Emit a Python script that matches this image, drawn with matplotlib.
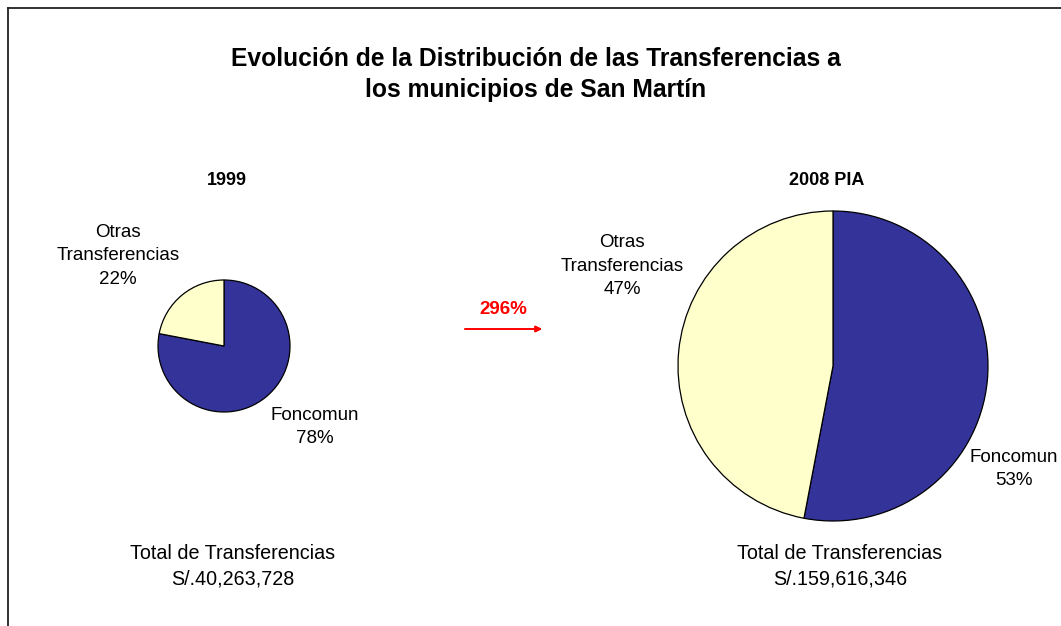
import matplotlib
matplotlib.use("Agg")
import matplotlib.pyplot as plt
from matplotlib.lines import Line2D

plt.rcParams["font.family"] = ["Liberation Sans", "DejaVu Sans"]

W, H = 1061, 626

categories = ["Foncomun", "Otras\nTransferencias"]
colors = ["#333399", "#FFFFCC"]
years = ["1999", "2008 PIA"]
shares_1999 = [78, 22]
shares_2008 = [53, 47]
totals = ["S/.40,263,728", "S/.159,616,346"]
growth_label = "296%"

# pie centre (px) and radius (px) for each year
pie_boxes = [(224, 346, 66), (833, 366, 155)]


def px(x, y):
    return x / W, 1 - y / H


fig = plt.figure(figsize=(W / 100, H / 100), dpi=100)

# partial frame (top and left edges)
fig.add_artist(Line2D([8 / W, 8 / W], [0, 1 - 8 / H], color="#222222", lw=1.3))
fig.add_artist(Line2D([8 / W, 1], [1 - 8 / H, 1 - 8 / H], color="#222222", lw=1.3))

fig.text(*px(536, 59), "Evolución de la Distribución de las Transferencias a",
         ha="center", va="center", fontsize=17.7, fontweight="bold")
fig.text(*px(536, 90), "los municipios de San Martín",
         ha="center", va="center", fontsize=17.7, fontweight="bold")

for (cx, cy, r), shares in zip(pie_boxes, [shares_1999, shares_2008]):
    ax = fig.add_axes([(cx - r) / W, (H - cy - r) / H, 2 * r / W, 2 * r / H])
    ax.pie(shares, colors=colors, startangle=90, counterclock=False,
           wedgeprops=dict(edgecolor="black", linewidth=0.9))
    ax.set_xlim(-1.0, 1.0)
    ax.set_ylim(-1.0, 1.0)
    ax.set_aspect("auto")
    ax.axis("off")

for year, x in zip(years, [227, 827]):
    fig.text(*px(x, 181), year, ha="center", va="center",
             fontsize=13, fontweight="bold")

# slice labels
label_pos = [
    [(315, 427), (118, 256)],
    [(1014, 469), (622, 266)],
]
for shares, positions in zip([shares_1999, shares_2008], label_pos):
    for cat, val, (x, y) in zip(categories, shares, positions):
        fig.text(*px(x, y), f"{cat}\n{val}%", ha="center", va="center",
                 fontsize=13.5, linespacing=1.52)

for tot, x in zip(totals, [233, 840]):
    fig.text(*px(x, 566), f"Total de Transferencias\n{tot}", ha="center",
             va="center", fontsize=14.2, linespacing=1.42)

fig.text(*px(503, 310), growth_label, ha="center", va="center",
         fontsize=13.5, fontweight="bold", color="red")
fig.add_artist(plt.annotate("", xy=px(542, 329), xytext=px(465, 329),
                            xycoords="figure fraction", textcoords="figure fraction",
                            arrowprops=dict(arrowstyle="-|>", color="red", lw=1.2,
                                            mutation_scale=9, shrinkA=0, shrinkB=0)))

fig.savefig("out.png", dpi=100)
